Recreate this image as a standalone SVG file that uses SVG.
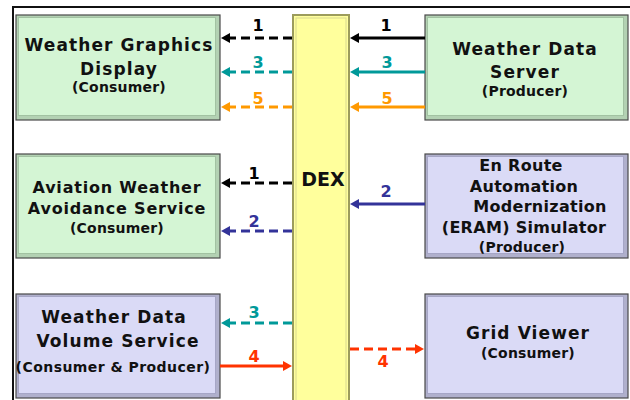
<svg xmlns="http://www.w3.org/2000/svg" width="630" height="400" viewBox="0 0 630 400">
<defs>
<style>
.t{font-family:"DejaVu Sans","Liberation Sans",sans-serif;font-weight:bold;fill:#111;text-anchor:middle}
.big{font-size:17px;letter-spacing:1.1px}
.mid{font-size:16px;letter-spacing:0.8px}
.er{font-size:16px;letter-spacing:0.3px}
.sm{font-size:14px;letter-spacing:0.2px}
.num{font-family:"DejaVu Sans","Liberation Sans",sans-serif;font-weight:bold;font-size:16px;text-anchor:middle}
.gO{fill:#b3d1b3;stroke:#4a4a4a;stroke-width:1.2}
.gI{fill:#d4f5d4;stroke:#a2c2a2;stroke-width:1}
.lO{fill:#b0b0cc;stroke:#4a4a4a;stroke-width:1.2}
.lI{fill:#dadaf6;stroke:#a6a6c6;stroke-width:1}
.ln{fill:none;stroke-width:3}
.dash{stroke-dasharray:9 5}
</style>
<marker id="aK" viewBox="0 0 9 10" refX="5" refY="5" markerWidth="9" markerHeight="10" markerUnits="userSpaceOnUse" orient="auto"><path d="M0,0 L9,5 L0,10 z" fill="#000"/></marker>
<marker id="aT" viewBox="0 0 9 10" refX="5" refY="5" markerWidth="9" markerHeight="10" markerUnits="userSpaceOnUse" orient="auto"><path d="M0,0 L9,5 L0,10 z" fill="#009999"/></marker>
<marker id="aO" viewBox="0 0 9 10" refX="5" refY="5" markerWidth="9" markerHeight="10" markerUnits="userSpaceOnUse" orient="auto"><path d="M0,0 L9,5 L0,10 z" fill="#ff9900"/></marker>
<marker id="aN" viewBox="0 0 9 10" refX="5" refY="5" markerWidth="9" markerHeight="10" markerUnits="userSpaceOnUse" orient="auto"><path d="M0,0 L9,5 L0,10 z" fill="#333399"/></marker>
<marker id="aR" viewBox="0 0 9 10" refX="5" refY="5" markerWidth="9" markerHeight="10" markerUnits="userSpaceOnUse" orient="auto"><path d="M0,0 L9,5 L0,10 z" fill="#ff3300"/></marker>
</defs>
<rect width="630" height="400" fill="#fff"/>
<path d="M13,401 V7 H631" fill="none" stroke="#111" stroke-width="2"/>

<g id="dex">
<rect x="293" y="15" width="56" height="392" fill="#ffff9c" stroke="#9c9c5c" stroke-width="2"/>
<rect x="296" y="18" width="50" height="392" fill="none" stroke="#d8d890" stroke-width="1"/>
<text class="t" x="323" y="186" style="font-size:19px">DEX</text>
</g>

<g id="wgd">
<rect class="gO" x="16" y="15" width="204" height="105"/>
<rect class="gI" x="18.5" y="17.5" width="197" height="98"/>
<text class="t big" x="119" y="51">Weather Graphics</text>
<text class="t big" x="119" y="75">Display</text>
<text class="t sm" x="119" y="92">(Consumer)</text>
</g>

<g id="wds">
<rect class="gO" x="425" y="15" width="203" height="105"/>
<rect class="gI" x="427.5" y="17.5" width="196" height="98"/>
<text class="t big" x="525" y="55">Weather Data</text>
<text class="t big" x="525" y="78">Server</text>
<text class="t sm" x="525" y="96">(Producer)</text>
</g>

<g id="awas">
<rect class="gO" x="16" y="154" width="204" height="104"/>
<rect class="gI" x="18.5" y="156.5" width="197" height="97"/>
<text class="t mid" x="117" y="193">Aviation Weather</text>
<text class="t mid" x="117" y="214">Avoidance Service</text>
<text class="t sm" x="117" y="233">(Consumer)</text>
</g>

<g id="eram">
<rect class="lO" x="425" y="154" width="203" height="104"/>
<rect class="lI" x="427.5" y="156.5" width="196" height="97"/>
<text class="t er" x="521" y="171">En Route</text>
<text class="t er" x="524" y="192">Automation</text>
<text class="t er" x="540" y="212">Modernization</text>
<text class="t er" x="524" y="233">(ERAM) Simulator</text>
<text class="t sm" x="522" y="252">(Producer)</text>
</g>

<g id="wdvs">
<rect class="lO" x="16" y="294" width="204" height="104"/>
<rect class="lI" x="18.5" y="296.5" width="197" height="97"/>
<text class="t big" x="114" y="323">Weather Data</text>
<text class="t big" x="118" y="347">Volume Service</text>
<text class="t" x="113" y="372" style="font-size:14px;letter-spacing:0.45px">(Consumer &amp; Producer)</text>
</g>

<g id="grid">
<rect class="lO" x="425" y="294" width="203" height="104"/>
<rect class="lI" x="427.5" y="296.5" width="196" height="97"/>
<text class="t big" x="528" y="339">Grid Viewer</text>
<text class="t sm" x="528" y="358">(Consumer)</text>
</g>

<g id="connectors">
<line class="ln dash" x1="292" y1="38" x2="225" y2="38" stroke="#000" marker-end="url(#aK)"/>
<line class="ln" x1="425" y1="38" x2="354" y2="38" stroke="#000" marker-end="url(#aK)"/>
<line class="ln dash" x1="292" y1="72" x2="225" y2="72" stroke="#009999" marker-end="url(#aT)"/>
<line class="ln" x1="425" y1="72" x2="354" y2="72" stroke="#009999" marker-end="url(#aT)"/>
<line class="ln dash" x1="292" y1="107" x2="225" y2="107" stroke="#ff9900" stroke-width="2.5" marker-end="url(#aO)"/>
<line class="ln" x1="425" y1="107" x2="354" y2="107" stroke="#ff9900" stroke-width="2.5" marker-end="url(#aO)"/>
<line class="ln dash" x1="292" y1="183" x2="225" y2="183" stroke="#000" marker-end="url(#aK)"/>
<line class="ln dash" x1="292" y1="231" x2="225" y2="231" stroke="#333399" marker-end="url(#aN)"/>
<line class="ln" x1="425" y1="204" x2="354" y2="204" stroke="#333399" marker-end="url(#aN)"/>
<line class="ln dash" x1="292" y1="323" x2="225" y2="323" stroke="#009999" marker-end="url(#aT)"/>
<line class="ln" x1="220" y1="366" x2="288" y2="366" stroke="#ff3300" marker-end="url(#aR)"/>
<line class="ln dash" x1="350" y1="349" x2="420" y2="349" stroke="#ff3300" marker-end="url(#aR)"/>
<text class="num" x="258" y="31" fill="#000">1</text>
<text class="num" x="386" y="31" fill="#000">1</text>
<text class="num" x="258" y="68" fill="#009999">3</text>
<text class="num" x="387" y="68" fill="#009999">3</text>
<text class="num" x="258" y="104" fill="#ff9900">5</text>
<text class="num" x="387" y="104" fill="#ff9900">5</text>
<text class="num" x="254" y="179" fill="#000">1</text>
<text class="num" x="254" y="227" fill="#333399">2</text>
<text class="num" x="386" y="197" fill="#333399">2</text>
<text class="num" x="254" y="318" fill="#009999">3</text>
<text class="num" x="254" y="362" fill="#ff3300">4</text>
<text class="num" x="383" y="367" fill="#ff3300">4</text>
</g>
</svg>
